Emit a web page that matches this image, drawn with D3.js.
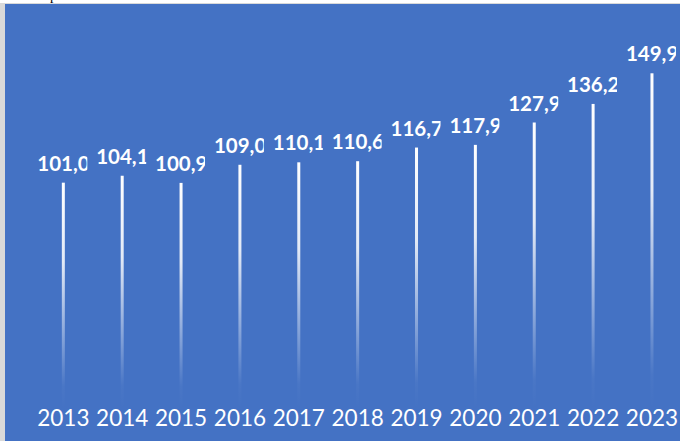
<!DOCTYPE html>
<meta charset="utf-8">
<script src="https://d3js.org/d3.v7.min.js"></script>
<style>
  body { margin: 0; background: #fff; }
</style>
<div id="my_dataviz"></div>
<script>
    // data
    var years = ["2013", "2014", "2015", "2016", "2017", "2018", "2019", "2020", "2021", "2022", "2023"];
    var values = [101.0, 104.1, 100.9, 109.0, 110.1, 110.6, 116.7, 117.9, 127.9, 136.2, 149.9];

    var W = 680, H = 441;

    var svg = d3.select("#my_dataviz")
        .append("svg")
        .attr("width", W)
        .attr("height", H);

    // page border / frame
    svg.append("rect").attr("x", 0).attr("y", 0).attr("width", W).attr("height", H).attr("fill", "#ffffff");
    svg.append("rect").attr("x", 0).attr("y", 3).attr("width", W).attr("height", H - 3).attr("fill", "#d9d9d9");
    svg.append("rect").attr("x", 5).attr("y", 4).attr("width", W - 5).attr("height", H - 4).attr("fill", "#4472c4");

    // bit of text from the line above the chart
    svg.append("text")
        .attr("x", 50).attr("y", 0)
        .style("font-family", "Liberation Serif")
        .style("font-size", "14px")
        .attr("fill", "#000")
        .text("p");

    var x = d3.scaleBand()
        .domain(years)
        .range([33.9, 681.4])
        .padding(0);

    var y = d3.scaleLinear()
        .domain([0, 160])
        .range([408.6, 50.7]);

    // white -> transparent gradient for the thin bars
    var defs = svg.append("defs");
    var grad = defs.append("linearGradient")
        .attr("id", "barGrad")
        .attr("x1", 0).attr("y1", 0).attr("x2", 0).attr("y2", 1);
    grad.append("stop").attr("offset", "0%").attr("stop-color", "#fff").attr("stop-opacity", 1);
    grad.append("stop").attr("offset", "35%").attr("stop-color", "#fff").attr("stop-opacity", 0.85);
    grad.append("stop").attr("offset", "90%").attr("stop-color", "#fff").attr("stop-opacity", 0.03);
    grad.append("stop").attr("offset", "100%").attr("stop-color", "#fff").attr("stop-opacity", 0);

    var barW = 3;

    svg.selectAll("rect.bar")
        .data(values)
        .enter()
        .append("rect")
        .attr("class", "bar")
        .attr("x", function(d, i) { return x(years[i]) + x.bandwidth() / 2 - barW / 2; })
        .attr("y", function(d) { return y(d); })
        .attr("width", barW)
        .attr("height", function(d) { return y(0) - y(d); })
        .attr("fill", "url(#barGrad)");

    // clip boxes for the value labels (text is cut on the right)
    values.forEach(function(d, i) {
        var cx = x(years[i]) + x.bandwidth() / 2;
        defs.append("clipPath")
            .attr("id", "lbl" + i)
            .append("rect")
            .attr("x", cx - 28)
            .attr("y", y(d) - 36)
            .attr("width", 52)
            .attr("height", 32);
    });

    var fmt = function(v) { return d3.format(".1f")(v).replace(".", ","); };

    svg.selectAll("text.val")
        .data(values)
        .enter()
        .append("text")
        .attr("class", "val")
        .attr("clip-path", function(d, i) { return "url(#lbl" + i + ")"; })
        .attr("x", function(d, i) { return x(years[i]) + x.bandwidth() / 2 - 26; })
        .attr("y", function(d) { return y(d) - 12; })
        .style("font-family", "Lato")
        .style("font-weight", "bold")
        .style("font-size", "20.5px")
        .attr("fill", "#fff")
        .text(fmt);

    // x axis labels
    var xAxis = svg.append("g")
        .attr("transform", "translate(0,426)")
        .call(d3.axisBottom(x).tickSize(0).tickPadding(0));
    xAxis.select(".domain").remove();
    xAxis.selectAll("text")
        .attr("dy", 0)
        .style("font-family", "Lato")
        .style("font-size", "22.5px")
        .attr("fill", "#fff");
</script>
